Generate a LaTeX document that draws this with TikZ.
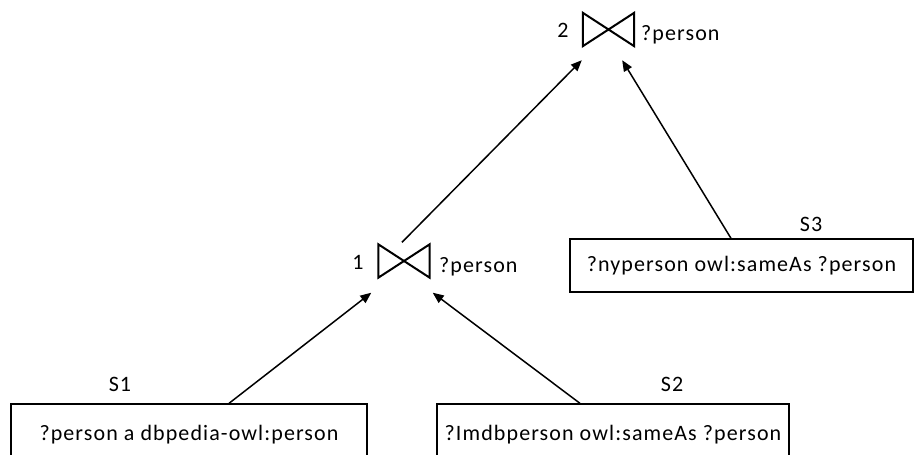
\documentclass[tikz,border=0pt]{standalone}
\usepackage{fontspec}
\setmainfont[LetterSpace=5]{Carlito}
\usetikzlibrary{arrows.meta,calc}
\begin{document}
\begin{tikzpicture}[x=1pt,y=1pt,
  box/.style={draw,line width=1.3pt,inner sep=0pt,font=\fontsize{22}{25}\selectfont},
  lbl/.style={inner sep=0pt,font=\fontsize{22}{25}\selectfont},
  joinop/.style={minimum width=51pt,minimum height=33pt,inner sep=0pt},
  bow/.style={line width=2pt,line join=miter},
  arr/.style={line width=1.5pt,-{Triangle[length=11pt,width=9pt]}}]
\useasboundingbox (0,0) rectangle (914,455);
\clip (0,0) rectangle (914,455);
% join operators
\node[joinop] (j2) at (608.5,425.5) {};
\node[joinop] (j1) at (404,194) {};
\draw[bow] (j2.north west) -- (j2.south east) -- (j2.north east) -- (j2.south west) -- cycle;
\draw[bow] (j1.north west) -- (j1.south east) -- (j1.north east) -- (j1.south west) -- cycle;
\node[lbl] (n2) at (563,425) {2};
\node[lbl] (n1) at (358,193) {1};
\node[lbl,anchor=west] (p2) at (641,420) {?person};
\node[lbl,anchor=west] (p1) at (439,188) {?person};
% triple pattern boxes
\node[box,minimum width=356pt,minimum height=62pt] (b1) at (189,20) {?person a dbpedia-owl:person};
\node[box,minimum width=352pt,minimum height=62pt] (b2) at (613,20) {?Imdbperson owl:sameAs ?person};
\node[box,minimum width=343pt,minimum height=53pt] (b3) at (741.5,189.5) {?nyperson owl:sameAs ?person};
\node[lbl] (s1) at (120,71) {S1};
\node[lbl] (s2) at (672,71) {S2};
\node[lbl] (s3) at (811,231) {S3};
% connector end points
\coordinate (b1o) at ($(b1.north)+(40,0)$);
\coordinate (b2o) at ($(b2.north)+(-33,0)$);
\coordinate (b3o) at ($(b3.north)+(-10.5,0)$);
\coordinate (j1o) at ($(j1.north)+(-2,2)$);
\coordinate (j1l) at ($(j1.south west)+(-7,-15)$);
\coordinate (j1r) at ($(j1.south east)+(3,-15)$);
\coordinate (j2l) at ($(j2.south west)+(-1,-14)$);
\coordinate (j2r) at ($(j2.south east)+(-12,-14)$);
\draw[arr] (b1o) -- (j1l);
\draw[arr] (b2o) -- (j1r);
\draw[arr] (j1o) -- (j2l);
\draw[arr] (b3o) -- (j2r);
\end{tikzpicture}
\end{document}
